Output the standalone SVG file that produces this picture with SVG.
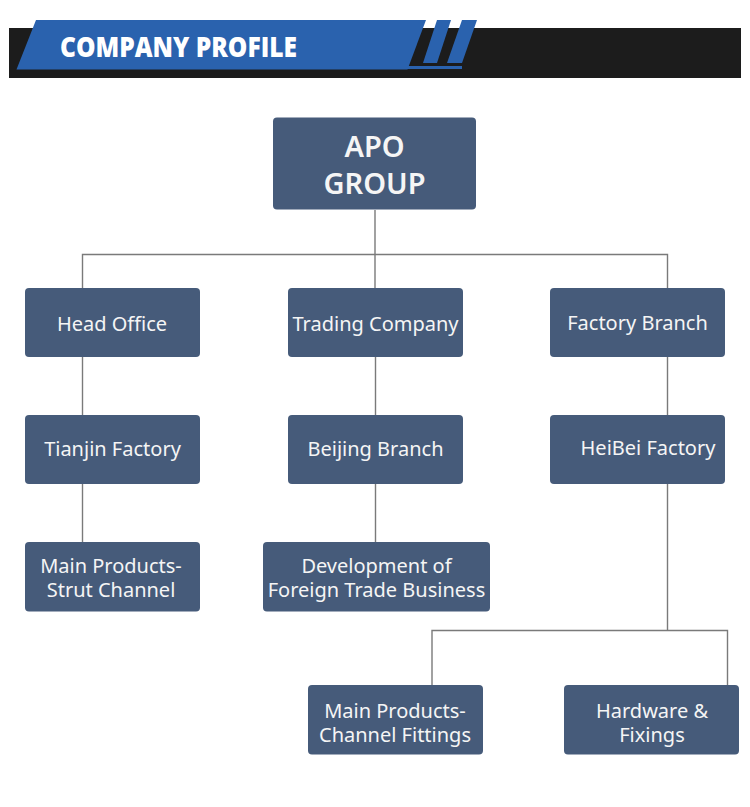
<svg xmlns="http://www.w3.org/2000/svg" width="750" height="807" viewBox="0 0 750 807">
<style>
.node rect{fill:#465b7a;}
.node text{fill:#f5f5f5;font-family:"Noto Sans","Open Sans",sans-serif;font-size:20px;text-anchor:middle;}
.big text{font-size:29px;font-weight:600;}
.conn line,.conn polyline{stroke:#7a7a7a;stroke-width:1.4;fill:none;}
.hdr-blue{fill:#2a62ae;}
</style>
<rect width="750" height="807" fill="#ffffff"/>
<g id="header">
<rect x="9" y="28" width="732" height="50" fill="#1c1c1c"/>
<polygon class="hdr-blue" points="36,20 426,20 407.5,69.5 16.5,69.5"/>
<polygon class="hdr-blue" points="437,20 451,20 437,63 423,63"/>
<polygon class="hdr-blue" points="462,20 477,20 462,63 447,63"/>
<rect class="hdr-blue" x="407" y="66" width="55" height="3"/>
<text x="60" y="57" fill="#ffffff" font-family="'Open Sans','Noto Sans',sans-serif" font-weight="800" font-size="28" textLength="237" lengthAdjust="spacingAndGlyphs">COMPANY PROFILE</text>
</g>
<g class="conn" id="connectors">
<line x1="375" y1="210" x2="375" y2="288"/>
<polyline points="82.5,288 82.5,254.5 667.5,254.5 667.5,288"/>
<line x1="82.5" y1="357" x2="82.5" y2="415"/>
<line x1="82.5" y1="484" x2="82.5" y2="542"/>
<line x1="375.5" y1="357" x2="375.5" y2="415"/>
<line x1="375.5" y1="484" x2="375.5" y2="542"/>
<line x1="667.5" y1="357" x2="667.5" y2="415"/>
<line x1="667.5" y1="484" x2="667.5" y2="630.5"/>
<polyline points="432,685 432,630.5 727.5,630.5 727.5,685"/>
</g>
<g class="node big" id="apo-group">
<rect x="273" y="117.5" width="203" height="92" rx="4"/>
<text x="374.5" y="157">APO</text>
<text x="374.5" y="193.5">GROUP</text>
</g>
<g class="node" id="head-office">
<rect x="25" y="288" width="175" height="69" rx="4"/>
<text x="112" y="331">Head Office</text>
</g>
<g class="node" id="trading-company">
<rect x="288" y="288" width="175" height="69" rx="4"/>
<text x="375.5" y="331">Trading Company</text>
</g>
<g class="node" id="factory-branch">
<rect x="550" y="288" width="175" height="69" rx="4"/>
<text x="637.5" y="330">Factory Branch</text>
</g>
<g class="node" id="tianjin-factory">
<rect x="25" y="415" width="175" height="69" rx="4"/>
<text x="112.5" y="456">Tianjin Factory</text>
</g>
<g class="node" id="beijing-branch">
<rect x="288" y="415" width="175" height="69" rx="4"/>
<text x="375.5" y="456">Beijing Branch</text>
</g>
<g class="node" id="heibei-factory">
<rect x="550" y="415" width="175" height="69" rx="4"/>
<text x="648" y="455">HeiBei Factory</text>
</g>
<g class="node" id="strut-channel">
<rect x="25" y="542" width="175" height="69.5" rx="4"/>
<text x="111" y="573">Main Products-</text>
<text x="111" y="597">Strut Channel</text>
</g>
<g class="node" id="foreign-trade">
<rect x="263" y="542" width="227" height="69.5" rx="4"/>
<text x="376.5" y="573">Development of</text>
<text x="376.5" y="597">Foreign Trade Business</text>
</g>
<g class="node" id="channel-fittings">
<rect x="308" y="685" width="175" height="69.5" rx="4"/>
<text x="395" y="718">Main Products-</text>
<text x="395" y="742">Channel Fittings</text>
</g>
<g class="node" id="hardware-fixings">
<rect x="564" y="685" width="175" height="69.5" rx="4"/>
<text x="652" y="718">Hardware &amp;</text>
<text x="652" y="742">Fixings</text>
</g>
</svg>
